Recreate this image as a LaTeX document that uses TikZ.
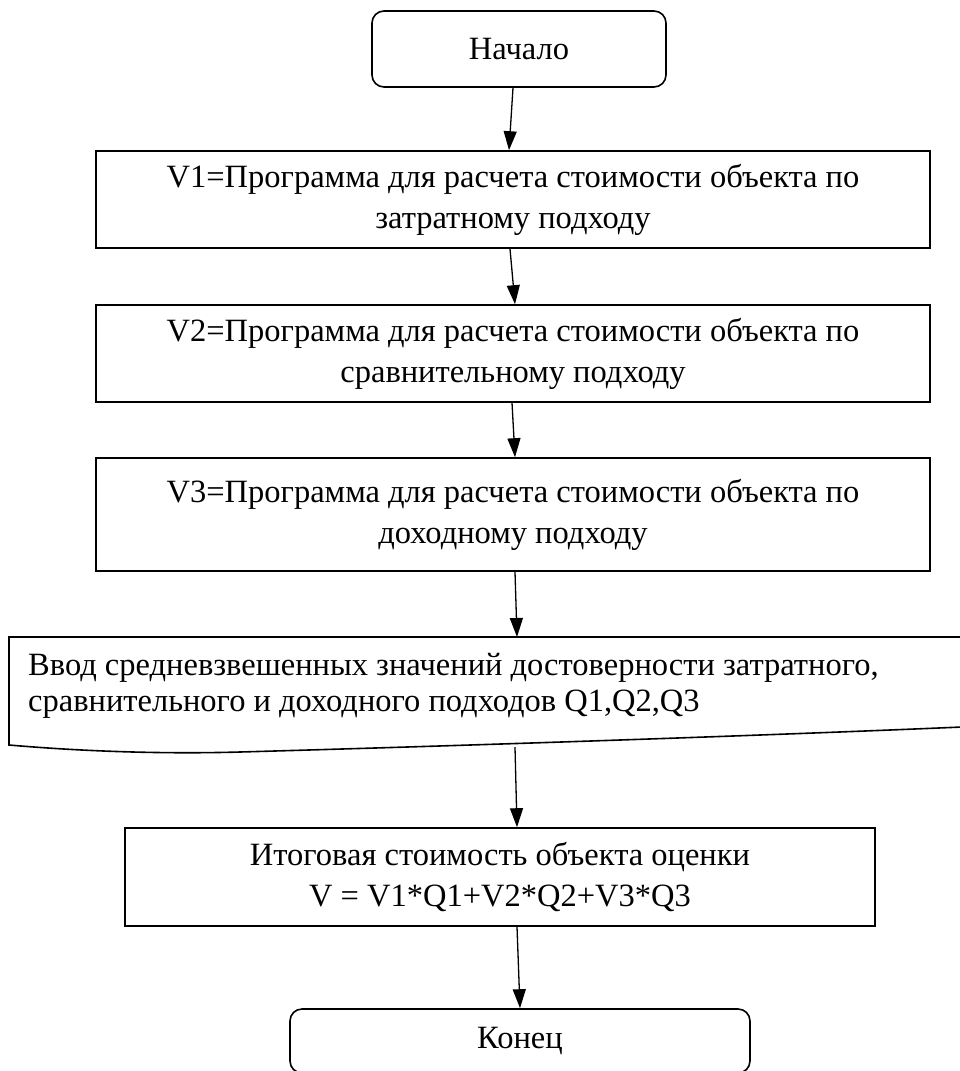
\documentclass[tikz,border=0pt]{standalone}
\usepackage{fontspec}
\setmainfont{Liberation Serif}
\usetikzlibrary{arrows.meta}
\begin{document}
\begin{tikzpicture}[x=1pt,y=-1pt,
  every node/.style={font=\fontsize{32.5}{41}\selectfont, inner sep=0pt},
  term/.style={draw, line width=1.6pt, rounded corners=12pt, align=center},
  proc/.style={draw, line width=1.6pt, align=center},
  arr/.style={line width=1.3pt, -{Triangle[length=19pt,width=13pt]}}]
\useasboundingbox (0,0) rectangle (960,1071);
\node[term, minimum width=294pt, minimum height=76pt] (start) at (519,49) {Начало};
\node[proc, minimum width=834pt, minimum height=97pt] (v1) at (513,199.5)
  {V1=Программа для расчета стоимости объекта по\\затратному подходу};
\node[proc, minimum width=834pt, minimum height=97pt] (v2) at (513,353.5)
  {V2=Программа для расчета стоимости объекта по\\сравнительному подходу};
\node[proc, minimum width=834pt, minimum height=113pt] (v3) at (513,514.5)
  {V3=Программа для расчета стоимости объекта по\\доходному подходу};
% manual input / document shape
\draw[line width=1.6pt] (962,637) -- (9,637) -- (9,745)
  .. controls (90,752) and (170,754) .. (240,752)
  .. controls (520,744) and (800,734) .. (962,727);
\coordinate (inTop) at (517,637);
\coordinate (inBot) at (515,747);
\node[align=left, anchor=west, font=\fontsize{32.5}{36}\selectfont] (in) at (28,686)
  {Ввод средневзвешенных значений достоверности затратного,\\сравнительного и доходного подходов Q1,Q2,Q3};
\node[proc, minimum width=750pt, minimum height=98pt] (res) at (500,877)
  {Итоговая стоимость объекта оценки\\V = V1*Q1+V2*Q2+V3*Q3};
\node[term, minimum width=460pt, minimum height=64pt] (end) at (520,1041) {Конец};
\draw[arr] ([xshift=-6pt]start.south) -- ([xshift=-4pt]v1.north);
\draw[arr] ([xshift=-3pt]v1.south) -- ([xshift=2pt]v2.north);
\draw[arr] ([xshift=-1pt]v2.south) -- ([xshift=2pt]v3.north);
\draw[arr] ([xshift=2pt]v3.south) -- (inTop);
\draw[arr] (inBot) -- ([xshift=17pt]res.north);
\draw[arr] ([xshift=17pt]res.south) -- (end.north);
\end{tikzpicture}
\end{document}
